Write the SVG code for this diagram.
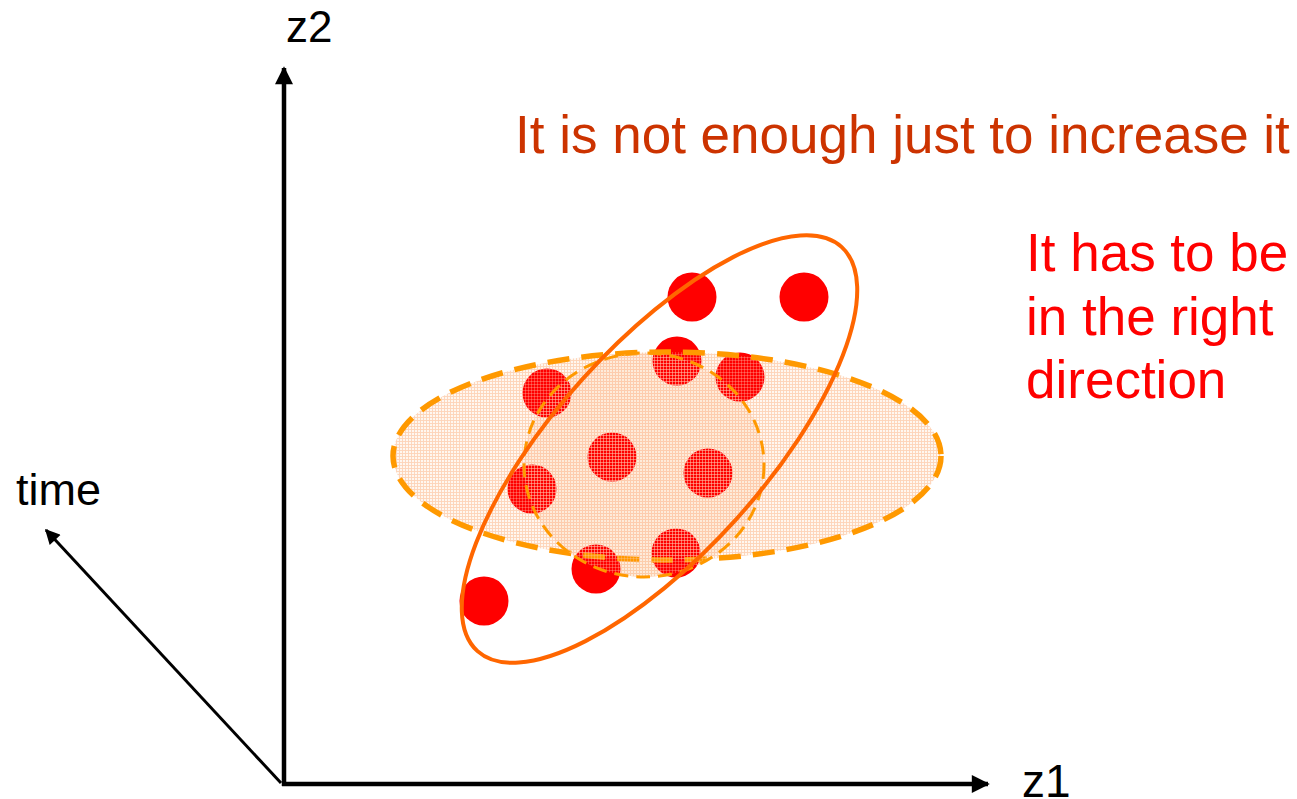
<svg xmlns="http://www.w3.org/2000/svg" width="1297" height="799" viewBox="0 0 1297 799">
<style>
.lbl{font-family:"Liberation Sans",Arial,sans-serif;}
.ax{stroke:#000;fill:none;}
.dot{fill:#FF0000;}
</style>
<defs>
<marker id="ah" viewBox="0 0 10 10" refX="9" refY="5" markerWidth="4.5" markerHeight="4" orient="auto" markerUnits="strokeWidth">
<path d="M0,0 L10,5 L0,10 z" fill="#000"/>
</marker>
<marker id="ah2" viewBox="0 0 10 10" refX="9" refY="5" markerWidth="6" markerHeight="5" orient="auto" markerUnits="strokeWidth">
<path d="M0,0 L10,5 L0,10 z" fill="#000"/>
</marker>
<pattern id="grid" width="3" height="3" patternUnits="userSpaceOnUse">
<rect width="3" height="3" fill="#FFF7F0"/>
<path d="M0,0.5 H3 M0.5,0 V3" stroke="#FCDDC3" stroke-width="1"/>
</pattern>
<pattern id="grid2" width="3" height="3" patternUnits="userSpaceOnUse">
<rect width="3" height="3" fill="#FEEBDA"/>
<path d="M0,0.5 H3 M0.5,0 V3" stroke="#FBCFA8" stroke-width="1"/>
</pattern>
<pattern id="veil" width="3" height="3" patternUnits="userSpaceOnUse">
<path d="M0,0.5 H3 M0.5,0 V3" stroke="#FFC8B0" stroke-opacity="0.4" stroke-width="0.8"/>
</pattern>
</defs>

<g id="axes">
<line class="ax" x1="284" y1="786" x2="284" y2="68" stroke-width="4.5" marker-end="url(#ah)"/>
<line class="ax" x1="282" y1="784" x2="988" y2="784" stroke-width="4.5" marker-end="url(#ah)"/>
<line class="ax" x1="281" y1="783" x2="46" y2="530" stroke-width="3" marker-end="url(#ah2)"/>
</g>

<g id="axis-labels">
<text class="lbl" x="286" y="42" font-size="44" fill="#000">z2</text>
<text class="lbl" x="1022" y="797" font-size="46" fill="#000">z1</text>
<text class="lbl" x="16" y="505" font-size="45" fill="#000">time</text>
</g>

<g id="wide-ellipse-fill">
<ellipse cx="667" cy="456" rx="274" ry="104" fill="url(#grid)"/>
<ellipse cx="644" cy="465" rx="120" ry="112" fill="url(#grid2)"/>
</g>

<g id="dots">
<circle class="dot" cx="692" cy="297" r="24.5"/>
<circle class="dot" cx="804" cy="297" r="24.5"/>
<circle class="dot" cx="677" cy="361" r="24.5"/>
<circle class="dot" cx="740" cy="377" r="24.5"/>
<circle class="dot" cx="547" cy="393" r="24.5"/>
<circle class="dot" cx="612" cy="457" r="24.5"/>
<circle class="dot" cx="708" cy="473" r="24.5"/>
<circle class="dot" cx="532" cy="489" r="24.5"/>
<circle class="dot" cx="596" cy="569" r="24.5"/>
<circle class="dot" cx="676" cy="553" r="24.5"/>
<circle class="dot" cx="484" cy="601" r="24.5"/>
</g>

<g id="wide-ellipse">
<ellipse cx="667" cy="456" rx="274" ry="104" fill="url(#veil)"/>
<ellipse cx="667" cy="456" rx="274" ry="104" fill="none" stroke="#FF9900" stroke-width="5.5" stroke-dasharray="22 12"/>
</g>

<g id="inner-circle">
<ellipse cx="644" cy="465" rx="120" ry="112" fill="url(#veil)"/>
<ellipse cx="644" cy="465" rx="120" ry="112" fill="none" stroke="#FF9900" stroke-width="3" stroke-dasharray="14 8"/>
</g>

<g id="tilted-ellipse">
<ellipse cx="0" cy="0" rx="272" ry="104" transform="translate(659.5 449) rotate(-48)" fill="none" stroke="#FF6600" stroke-width="4"/>
</g>

<g id="title">
<text class="lbl" x="515" y="153" font-size="53" fill="#CC3300">It is not enough just to increase it</text>
</g>

<g id="note">
<text class="lbl" font-size="53" fill="#FF0000">
<tspan x="1026" y="271">It has to be</tspan>
<tspan x="1026" y="335">in the right</tspan>
<tspan x="1026" y="398">direction</tspan>
</text>
</g>
</svg>
